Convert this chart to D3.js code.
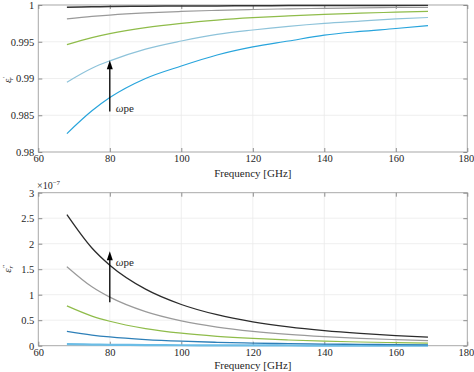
<!DOCTYPE html>
<html><head><meta charset="utf-8">
<script src="https://cdn.jsdelivr.net/npm/d3@7"></script>
<style>
body{margin:0;background:#fff;}
svg text{font-family:"Liberation Serif","Times New Roman","DejaVu Serif",serif !important;fill:#262626;}
</style>
</head><body>
<svg id="c" width="474" height="372"></svg>
<script>
// ---- data ----
const freq = [68, 75, 80, 90, 100, 110, 120, 130, 140, 150, 160, 169];
const xTicks = [60, 80, 100, 120, 140, 160, 180];
const epsRealTicks = [0.98, 0.985, 0.99, 0.995, 1];
const epsImagTicks = [0, 0.5, 1, 1.5, 2, 2.5, 3];
// real part
const realBlack = [0.9997, 0.99975, 0.99978, 0.99983, 0.99986, 0.99988, 0.9999, 0.99992, 0.99993, 0.99994, 0.99994, 0.99995];
const realGray  = [0.9981, 0.99844, 0.99863, 0.99892, 0.99912, 0.99927, 0.99939, 0.99948, 0.99955, 0.99961, 0.99966, 0.99969];
const realGreen = [0.9946, 0.99556, 0.9961, 0.99692, 0.9975, 0.99794, 0.99827, 0.99852, 0.99873, 0.99889, 0.99902, 0.99913];
const realLight = [0.9895, 0.9914, 0.9924, 0.9940, 0.9951, 0.9960, 0.9966, 0.9971, 0.9975, 0.9978, 0.9981, 0.9983];
const realBlue  = [0.9825, 0.9856, 0.9874, 0.9900, 0.9917, 0.9932, 0.9943, 0.9951, 0.9959, 0.9964, 0.9968, 0.9972];
// imaginary part (x 1e-7)
const imagBlack = [2.57, 1.915, 1.578, 1.108, 0.808, 0.607, 0.468, 0.368, 0.295, 0.240, 0.197, 0.167];
const imagGray  = [1.55, 1.155, 0.952, 0.668, 0.487, 0.366, 0.282, 0.222, 0.178, 0.144, 0.119, 0.101];
const imagGreen = [0.78, 0.581, 0.479, 0.336, 0.245, 0.184, 0.142, 0.112, 0.089, 0.073, 0.060, 0.051];
const imagBlue  = [0.28, 0.209, 0.172, 0.121, 0.088, 0.066, 0.051, 0.040, 0.032, 0.026, 0.022, 0.018];
const imagLight = [0.03, 0.022, 0.018, 0.013, 0.009, 0.007, 0.005, 0.004, 0.003, 0.003, 0.002, 0.002];
const arrowFreq = 80;
const arrowReal = [0.9855, 0.9925];
const arrowImag = [0.85, 1.85];

const svg = d3.select("#c");
const x = d3.scaleLinear().domain([60, 180]).range([38.3, 467.3]);
const FONT = '"Liberation Serif","Times New Roman","DejaVu Serif",serif';

function panel(cfg) {
  const y = d3.scaleLinear().domain(cfg.ydom).range(cfg.yrange);
  const g = svg.append("g");
  const [x0, x1] = x.range();
  const [yb, yt] = cfg.yrange;
  // grid
  g.selectAll(".gx").data(xTicks).join("line")
    .attr("x1", d => x(d)).attr("x2", d => x(d)).attr("y1", yt).attr("y2", yb)
    .attr("stroke", "#ebebeb").attr("stroke-width", 0.8);
  g.selectAll(".gy").data(cfg.ticks).join("line")
    .attr("x1", x0).attr("x2", x1).attr("y1", d => y(d)).attr("y2", d => y(d))
    .attr("stroke", "#ebebeb").attr("stroke-width", 0.8);
  // box
  g.append("rect").attr("x", x0).attr("y", yt).attr("width", x1 - x0).attr("height", yb - yt)
    .attr("fill", "none").attr("stroke", "#a6a6a6").attr("stroke-width", 0.9);
  // axes with inward ticks
  const ax = d3.axisBottom(x).tickValues(xTicks).tickSize(-4).tickPadding(3).tickFormat(d3.format("d"));
  const axG = g.append("g").attr("transform", `translate(0,${yb})`).call(ax);
  const ay = d3.axisLeft(y).tickValues(cfg.ticks).tickSize(-4).tickPadding(4).tickFormat(cfg.fmt);
  const ayG = g.append("g").attr("transform", `translate(${x0},0)`).call(ay);
  const axT = g.append("g").attr("transform", `translate(0,${yt})`).call(d3.axisTop(x).tickValues(xTicks).tickSize(-4).tickFormat(""));
  const ayR = g.append("g").attr("transform", `translate(${x1},0)`).call(d3.axisRight(y).tickValues(cfg.ticks).tickSize(-4).tickFormat(""));
  [axG, ayG, axT, ayR].forEach(s => {
    s.attr("font-family", FONT);
    s.select(".domain").remove();
    s.selectAll("line").attr("stroke", "#8c8c8c");
    s.selectAll("text").attr("font-size", 10.5).attr("fill", "#262626");
  });
  // keep the last x label inside the page
  axG.selectAll(".tick").filter(d => d === 180).select("text").attr("text-anchor", "end").attr("dx", 6.5);
  // lines
  const line = d3.line().x((d, i) => x(freq[i])).y(d => y(d)).curve(d3.curveMonotoneX);
  cfg.series.forEach(s => {
    g.append("path").attr("d", line(s.v)).attr("fill", "none")
      .attr("stroke", s.c).attr("stroke-width", s.w || 1.2);
  });
  // arrow
  const ax1 = x(arrowFreq);
  g.append("line").attr("x1", ax1).attr("x2", ax1)
    .attr("y1", y(cfg.arrow[0])).attr("y2", y(cfg.arrow[1]) + 7)
    .attr("stroke", "#000").attr("stroke-width", 1.3);
  const ty = y(cfg.arrow[1]);
  g.append("path").attr("d", `M${ax1},${ty} L${ax1 - 3},${ty + 9} L${ax1 + 3},${ty + 9} Z`).attr("fill", "#000");
  const lab = g.append("text").attr("x", ax1 + 6).attr("y", cfg.labY).attr("font-size", 11).attr("fill", "#000");
  lab.append("tspan").attr("font-style", "italic").text("ω");
  lab.append("tspan").text("pe").attr("font-size", 11);
  // x label
  g.append("text").attr("x", (x0 + x1) / 2).attr("y", yb + cfg.xlabOff).attr("text-anchor", "middle")
    .attr("font-size", 11).text("Frequency [GHz]");
  return {g, y};
}

const topPanel = panel({
  ydom: [0.98, 1], yrange: [152, 5], ticks: epsRealTicks, fmt: d3.format(""),
  series: [
    {v: realBlack, c: "#333333", w: 1.5},
    {v: realGray, c: "#9a9a9a"},
    {v: realGreen, c: "#8fbc4a"},
    {v: realLight, c: "#8ec3da"},
    {v: realBlue, c: "#27a4dc"}
  ],
  arrow: arrowReal, labY: 112, xlabOff: 25
});
const botPanel = panel({
  ydom: [0, 3], yrange: [345.7, 192.7], ticks: epsImagTicks, fmt: d3.format(""),
  series: [
    {v: imagLight, c: "#6cbde6", w: 2.2},
    {v: imagBlue, c: "#2d7fb8", w: 1.3},
    {v: imagGreen, c: "#8fbc4a"},
    {v: imagGray, c: "#9a9a9a"},
    {v: imagBlack, c: "#2b2b2b", w: 1.3}
  ],
  arrow: arrowImag, labY: 266, xlabOff: 23
});

// y labels
function ylab(cx, cy, primes) {
  const t = svg.append("text").attr("transform", `translate(${cx},${cy}) rotate(-90)`)
    .attr("text-anchor", "middle").attr("font-size", 11).attr("font-style", "italic");
  t.append("tspan").text("ε");
  t.append("tspan").attr("font-size", 7).attr("dy", -4).text(primes);
  t.append("tspan").attr("font-size", 7).attr("dy", 6).attr("dx", -3).text("r");
}
ylab(11, 80, "′");
ylab(11, 269, "″");

// exponent
const ex = svg.append("text").attr("x", 37).attr("y", 189).attr("font-size", 10);
ex.append("tspan").text("×10");
ex.append("tspan").attr("font-size", 7).attr("dy", -4).text("−7");
</script>
</body></html>
